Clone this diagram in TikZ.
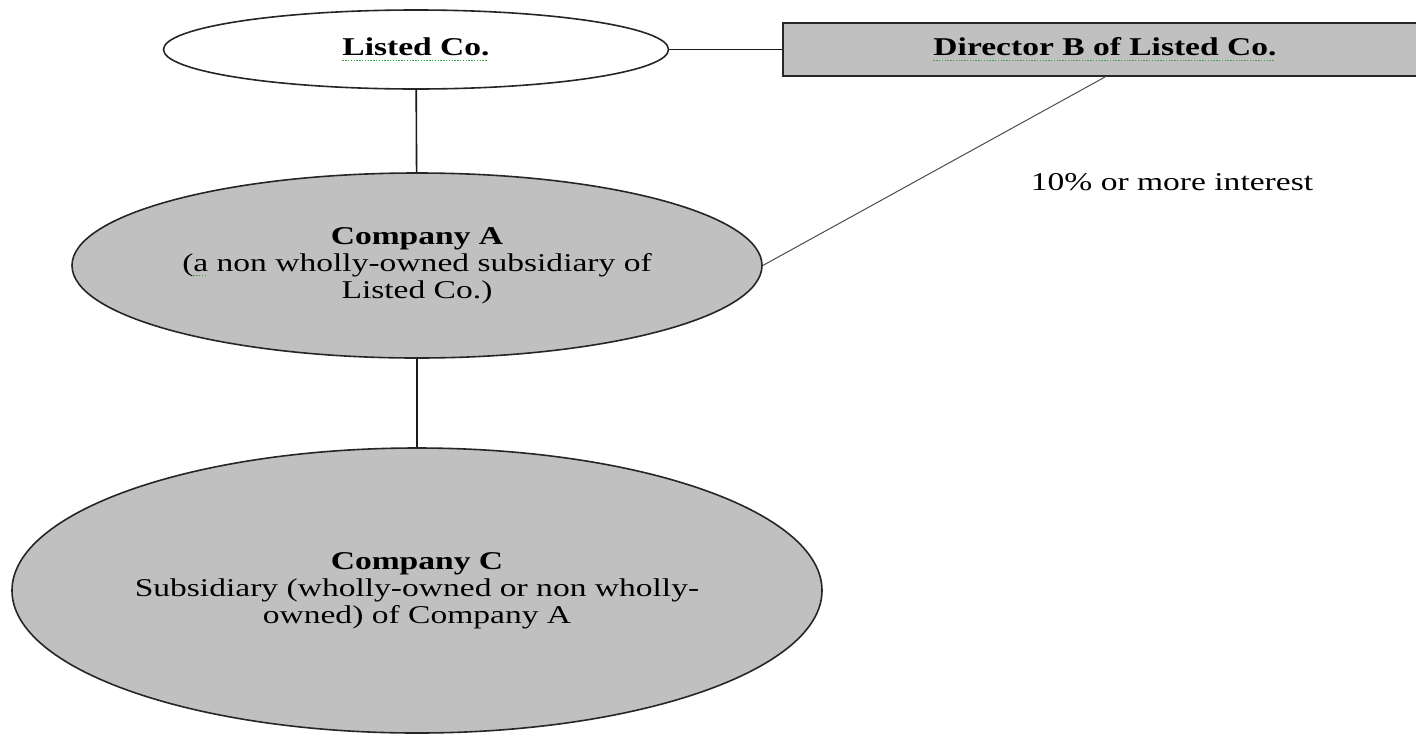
\documentclass[tikz,border=0pt]{standalone}
\usepackage{fontspec}
\setmainfont{Liberation Serif}[FakeStretch=1.31]
\usepackage{tikz}
\usetikzlibrary{
	shapes.geometric,
	positioning,
}
\definecolor{shade}{HTML}{C0C0C0}
\definecolor{grammar}{HTML}{3AA83A}
\newlength\gramwd
\newcommand\gramline[1]{\settowidth\gramwd{#1}\rlap{\color{grammar}\leaders\hbox{\rule[-2.6pt]{0.7pt}{0.7pt}\kern0.7pt}\hskip\gramwd}#1}
\tikzset{default node/.style={inner sep=0pt,align=center,font={\fontsize{12.8pt}{13.6pt}\selectfont},text=black,}}
\tikzset{firm/.style={draw=black!85,ellipse,fill=shade,line width=.8pt,}}
\tikzset{person/.style={draw=black!85,rectangle,fill=shade,line width=1pt,}}
\tikzset{tie/.style={line width=.8pt,black!90,}}
\tikzset{stake/.style={line width=.5pt,black!70,}}

\begin{document}
\begin{tikzpicture}[x=0.5pt,y=-0.5pt,every node/.style={default node}]
\clip (0,0) rectangle (1416,734);

\node[firm,fill=white,minimum width=252.5pt,minimum height=39.5pt](listed) at(416,49.5) {\textbf{\gramline{Listed Co.}}};
\node[person,minimum width=322pt,minimum height=26.5pt](director) at(1105,49.5) {\textbf{\gramline{Director B of Listed Co.}}};

\node[firm,minimum width=345pt,minimum height=92.5pt](compA) at(417,265.5) {\textbf{Company A}\\(\gramline{a} non wholly-owned subsidiary of\\Listed Co.)};
\node[firm,minimum width=405pt,minimum height=142.5pt](compC) at(417,590.5) {\textbf{Company C}\\Subsidiary (wholly-owned or non wholly-\\owned) of Company A};

\node(interest) at(1172,182) {10\% or more interest};

\draw[tie] (listed) -- (director);
\draw[tie] (listed) -- (compA);
\draw[tie] (compA) -- (compC);
\draw[stake] (director.south) -- (compA.east);

\end{tikzpicture}
\end{document}
